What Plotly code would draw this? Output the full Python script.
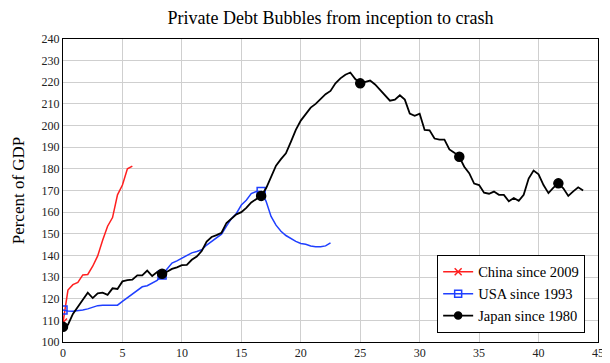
import plotly.graph_objects as go

# sampling: one value every 5 months (years = index * 5/12); markers every 100 months
step_years = 5 / 12
marker_every = 20

china_vals = [109, 124, 126.5, 127.5, 131, 131.2, 135, 139.8, 147, 153.5, 157.5, 168, 172.5, 180, 181.3]

usa_vals = [114.8, 114.3, 114.2, 114.4, 114.8, 115.3, 116.2, 116.8, 117, 117.1,
            117, 117, 118.8, 120.5, 122, 123.8, 125.5, 126, 127.2, 128.5,
            131, 134, 136.5, 137.5, 138.7, 140, 141.2, 141.8, 142.6, 144.8,
            146.5, 148, 149.8, 153.5, 157, 159.4, 163.3, 165.5, 168.6, 169.5,
            169.5, 165, 158, 154, 151.2, 149.2, 147.7, 146.5, 145.5, 145.2,
            144.4, 144, 144, 144.4, 145.8]

japan_vals = [107, 108, 113, 116.5, 119.5, 122.8, 120.3, 122.5, 122.8, 121.8,
              124.8, 124.5, 128, 128.6, 128.8, 130.8, 130.8, 133, 130.5, 132.3,
              131.5, 132.5, 133.8, 134.5, 135.5, 135.6, 138, 139.5, 142, 146.4,
              148.5, 149.4, 150.5, 155, 157, 159, 160, 162, 164.5, 166,
              167.5, 171, 176, 181.5, 184.5, 187.2, 192.5, 198, 202.3, 205.5,
              208.3, 210, 212.5, 214.5, 216, 219.5, 221.8, 223.5, 224.5, 221.5,
              219.5, 220, 220.8, 219, 216.5, 213.5, 211.5, 212, 214, 212,
              205.5, 204.5, 205.5, 198, 197.8, 194, 193.5, 193.5, 189, 187.5,
              185.6, 181, 178, 173.2, 172.5, 169, 168.5, 169.5, 168, 168,
              165, 166.5, 165.2, 168, 175.5, 179.2, 177.5, 172.5, 168.8, 171.3,
              173.3, 171, 167.5, 169.6, 171.5, 170]

series_names = ["China since 2009", "USA since 1993", "Japan since 1980"]
x_ticks = [0, 5, 10, 15, 20, 25, 30, 35, 40, 45]
y_ticks = [100, 110, 120, 130, 140, 150, 160, 170, 180, 190, 200, 210, 220, 230, 240]

styles = [
    dict(color="#ff1f1f", symbol="x-thin-open", size=8, width=1.5),
    dict(color="#1f3fff", symbol="square-open", size=8, width=1.5),
    dict(color="#000000", symbol="circle", size=9, width=1.8),
]

serif = "Liberation Serif"
fig = go.Figure()

for name, vals, st in zip(series_names, [china_vals, usa_vals, japan_vals], styles):
    xs = [i * step_years for i in range(len(vals))]
    fig.add_trace(go.Scatter(x=xs, y=vals, mode="lines", showlegend=False,
                             line=dict(color=st["color"], width=st["width"]),
                             hoverinfo="skip"))
    fig.add_trace(go.Scatter(x=xs[::marker_every], y=vals[::marker_every], mode="markers",
                             showlegend=False,
                             marker=dict(color=st["color"], symbol=st["symbol"], size=st["size"],
                                         line=dict(color=st["color"], width=1.5))))
    fig.add_trace(go.Scatter(x=[None], y=[None], mode="lines+markers", name=name,
                             line=dict(color=st["color"], width=st["width"]),
                             marker=dict(color=st["color"], symbol=st["symbol"], size=7,
                                         line=dict(color=st["color"], width=1.5))))

axis_common = dict(showline=True, linecolor="black", linewidth=1, mirror=True,
                   showgrid=True, gridcolor="#cfcfcf", gridwidth=1, zeroline=False,
                   automargin=False,
                   ticks="", tickfont=dict(family=serif, size=12, color="#222"))

# the page body adds an 8 px offset, so the figure is 8 px smaller on each side
fig.update_layout(
    width=602, height=355,
    margin=dict(l=55, r=12, t=31, b=21),
    paper_bgcolor="white", plot_bgcolor="white",
    font=dict(family=serif),
    title=dict(text="Private Debt Bubbles from inception to crash",
               font=dict(family=serif, size=18, color="black"),
               x=0.5, xref="paper", xanchor="center", y=0.972, yanchor="middle"),
    xaxis=dict(range=[0, 45], tickvals=x_ticks, **axis_common),
    yaxis=dict(range=[100, 240], tickvals=y_ticks,
               title=dict(text="Percent of GDP", font=dict(family=serif, size=17, color="black"),
                          standoff=12),
               **axis_common),
    legend=dict(x=0.976, y=0.03, xanchor="right", yanchor="bottom",
                bgcolor="white", bordercolor="black", borderwidth=1,
                font=dict(family=serif, size=14.5, color="black"),
                tracegroupgap=0, itemwidth=30),
    showlegend=True,
)

fig.write_html("out.html")
